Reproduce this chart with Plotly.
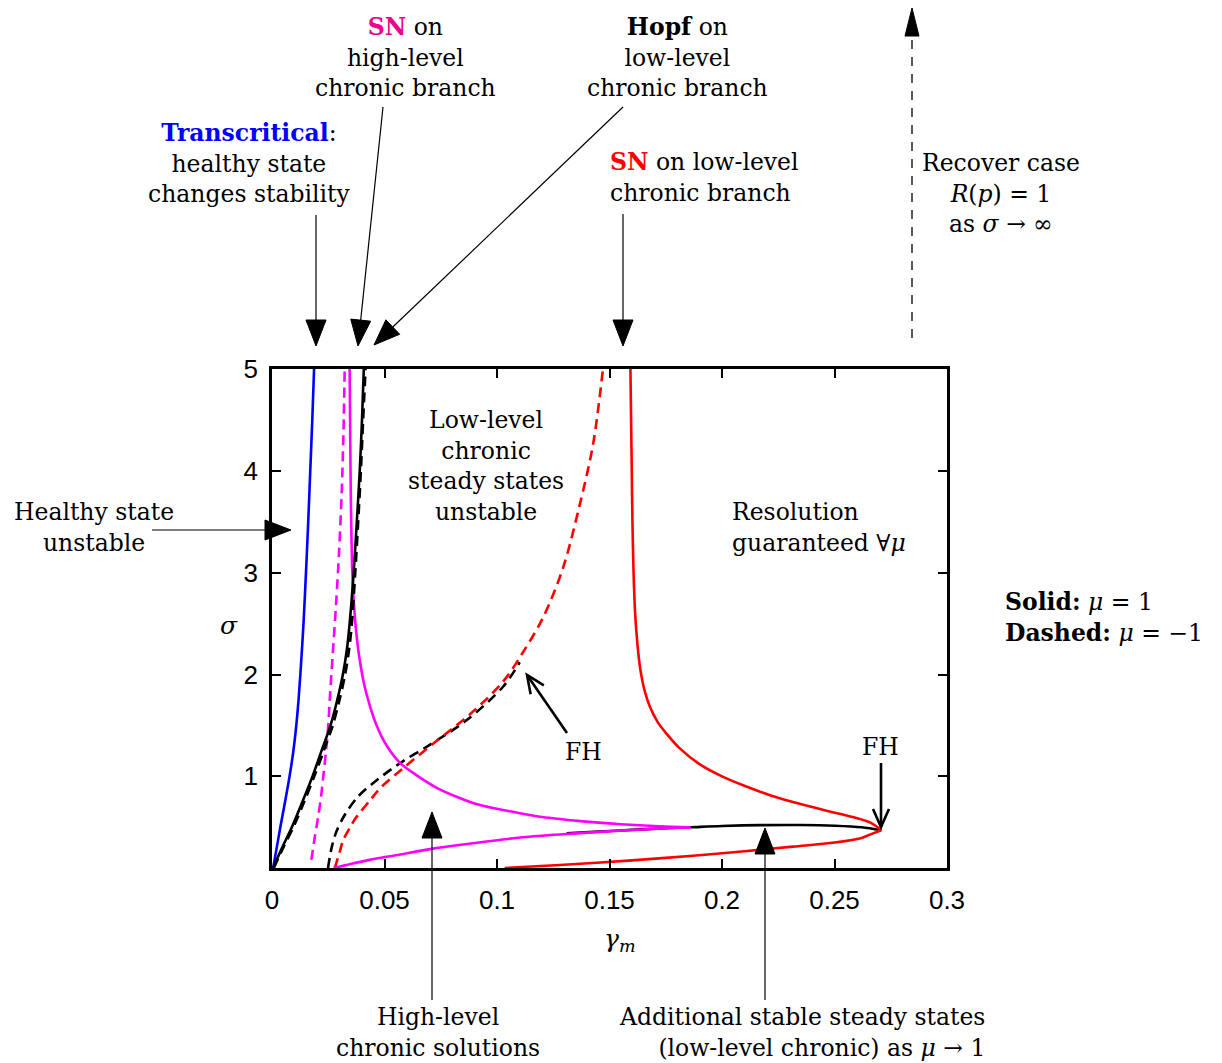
import plotly.graph_objects as go
import math

# ---------------- data (gamma_m, sigma) ----------------
blue_g = [0.0005, 0.0021, 0.0037, 0.0058, 0.0078, 0.0095, 0.0108, 0.0118, 0.0126, 0.0140,
          0.0151, 0.0161, 0.0170, 0.0179, 0.0187]
blue_s = [0.10, 0.30, 0.50, 0.75, 1.00, 1.25, 1.50, 1.75, 2.00, 2.50,
          3.00, 3.50, 4.00, 4.50, 5.00]

hopf_solid_g = [0.0005, 0.0045, 0.0088, 0.0135, 0.0180, 0.0220, 0.0260, 0.0290, 0.0315, 0.0333,
                0.0345, 0.0363, 0.0377, 0.0390, 0.0400, 0.0408]
hopf_solid_s = [0.10, 0.30, 0.50, 0.75, 1.00, 1.25, 1.50, 1.75, 2.00, 2.25,
                2.50, 3.00, 3.50, 4.00, 4.50, 5.00]

hopf_dash_up_g = [0.0008, 0.0050, 0.0095, 0.0143, 0.0188, 0.0230, 0.0270, 0.0300, 0.0325, 0.0343,
                  0.0355, 0.0370, 0.0383, 0.0395, 0.0405, 0.0416]
hopf_dash_up_s = [0.10, 0.30, 0.50, 0.75, 1.00, 1.25, 1.50, 1.75, 2.00, 2.25,
                  2.50, 3.00, 3.50, 4.00, 4.50, 5.00]

hopf_low_solid_g = [0.131, 0.145, 0.160, 0.175, 0.186, 0.200, 0.217, 0.235, 0.250, 0.262, 0.2708]
hopf_low_solid_s = [0.44, 0.457, 0.474, 0.49, 0.50, 0.513, 0.521, 0.522, 0.515, 0.50, 0.47]

hopf_dash_low_g = [0.0249, 0.0265, 0.0285, 0.0323, 0.0382, 0.0464, 0.0583, 0.0687, 0.0864,
                   0.1027, 0.1101]
hopf_dash_low_s = [0.10, 0.30, 0.45, 0.62, 0.80, 0.96, 1.15, 1.29, 1.55,
                   1.88, 2.12]

sn_high_up_g = [0.0345, 0.0347, 0.0349, 0.0352, 0.0357, 0.0364, 0.0375, 0.0390, 0.0410, 0.0434,
                0.0465, 0.0510, 0.0570, 0.0650, 0.0730, 0.0820, 0.0920, 0.1050, 0.1200, 0.1370,
                0.1550, 0.1720, 0.1860]
sn_high_up_s = [5.00, 4.50, 4.00, 3.50, 3.00, 2.70, 2.40, 2.14, 1.90, 1.70,
                1.50, 1.30, 1.13, 1.00, 0.89, 0.80, 0.72, 0.66, 0.60, 0.56,
                0.53, 0.51, 0.50]

sn_high_low_g = [0.0274, 0.0350, 0.0434, 0.0550, 0.0716, 0.0900, 0.1130, 0.1350, 0.1575, 0.1750, 0.1860]
sn_high_low_s = [0.10, 0.14, 0.18, 0.225, 0.29, 0.345, 0.405, 0.44, 0.47, 0.49, 0.50]

sn_high_dash_g = [0.0175, 0.0190, 0.0205, 0.0218, 0.0228, 0.0240, 0.0250, 0.0258, 0.0270, 0.0285,
                  0.0298, 0.0310, 0.0318, 0.0323]
sn_high_dash_s = [0.18, 0.40, 0.60, 0.80, 1.00, 1.25, 1.50, 1.80, 2.20, 2.70,
                  3.20, 3.80, 4.40, 5.00]

sn_low_up_g = [0.1593, 0.1596, 0.1599, 0.1602, 0.1607, 0.1614, 0.1624, 0.1637, 0.1655, 0.1680,
               0.1715, 0.1753, 0.1810, 0.1900, 0.2000, 0.2108, 0.2220, 0.2345, 0.2460, 0.2582,
               0.2660, 0.2708]
sn_low_up_s = [5.00, 4.50, 4.00, 3.50, 3.00, 2.60, 2.30, 2.05, 1.85, 1.68,
               1.53, 1.42, 1.28, 1.12, 1.00, 0.90, 0.81, 0.73, 0.665, 0.60,
               0.545, 0.47]

sn_low_low_g = [0.2708, 0.2660, 0.2612, 0.2500, 0.2316, 0.2100, 0.1871, 0.1600, 0.1279, 0.1034]
sn_low_low_s = [0.47, 0.43, 0.39, 0.35, 0.31, 0.265, 0.22, 0.175, 0.13, 0.10]

sn_low_dash_g = [0.0279, 0.0300, 0.0316, 0.0347, 0.0375, 0.0434, 0.0479, 0.0583, 0.0716, 0.0880,
                 0.1027, 0.1116, 0.1205, 0.1294, 0.1368, 0.1427, 0.1471]
sn_low_dash_s = [0.10, 0.25, 0.37, 0.50, 0.60, 0.76, 0.88, 1.08, 1.32, 1.61,
                 1.93, 2.22, 2.56, 3.05, 3.67, 4.26, 5.00]

x_ticks = [0, 0.05, 0.1, 0.15, 0.2, 0.25, 0.3]
x_tick_labels = ["0", "0.05", "0.1", "0.15", "0.2", "0.25", "0.3"]
y_ticks = [1, 2, 3, 4, 5]
y_tick_labels = ["1", "2", "3", "4", "5"]

# ---------------- figure ----------------
W, H = 1222, 1063
L, R, T, B = 272, 947, 369, 868
LW = 2.6
DASH = "10px,6px"

fig = go.Figure()

def add(g, s, color, dash=None):
    fig.add_trace(go.Scatter(x=g, y=s, mode="lines", line_shape="spline",
                             line=dict(color=color, width=LW, dash=dash, smoothing=0.9),
                             showlegend=False, hoverinfo="skip"))

add(blue_g, blue_s, "#0000FF")
add(sn_high_dash_g, sn_high_dash_s, "#FF00FF", DASH)
add(hopf_dash_low_g, hopf_dash_low_s, "#000000", DASH)
add(sn_low_dash_g, sn_low_dash_s, "#FF0000", DASH)
add(hopf_low_solid_g, hopf_low_solid_s, "#000000")
add(sn_high_up_g, sn_high_up_s, "#FF00FF")
add(sn_high_low_g, sn_high_low_s, "#FF00FF")
add(sn_low_up_g, sn_low_up_s, "#FF0000")
add(sn_low_low_g, sn_low_low_s, "#FF0000")
add(hopf_dash_up_g, hopf_dash_up_s, "#000000", DASH)
add(hopf_solid_g, hopf_solid_s, "#000000")

def pxp(x):
    return (x - L) / (R - L)

def pyp(y):
    return (B - y) / (B - T)

shapes = []

def arrow(x0, y0, x1, y1, hl=26, hw=10, width=1.2, dash=None):
    dx, dy = x1 - x0, y1 - y0
    n = math.hypot(dx, dy)
    ux, uy = dx / n, dy / n
    bx, by = x1 - ux * hl, y1 - uy * hl
    shapes.append(dict(type="line", xref="paper", yref="paper",
                       x0=pxp(x0), y0=pyp(y0), x1=pxp(bx), y1=pyp(by),
                       line=dict(color="black", width=width, dash=dash)))
    p1 = (bx - uy * hw, by + ux * hw)
    p2 = (bx + uy * hw, by - ux * hw)
    path = "M {} {} L {} {} L {} {} Z".format(pxp(x1), pyp(y1), pxp(p1[0]), pyp(p1[1]),
                                              pxp(p2[0]), pyp(p2[1]))
    shapes.append(dict(type="path", xref="paper", yref="paper", path=path,
                       fillcolor="black", line=dict(color="black", width=1)))

def varrow(x0, y0, x1, y1, hl=18, hw=8, width=2.6):
    dx, dy = x1 - x0, y1 - y0
    n = math.hypot(dx, dy)
    ux, uy = dx / n, dy / n
    bx, by = x1 - ux * hl, y1 - uy * hl
    shapes.append(dict(type="line", xref="paper", yref="paper",
                       x0=pxp(x0), y0=pyp(y0), x1=pxp(x1), y1=pyp(y1),
                       line=dict(color="black", width=width)))
    p1 = (bx - uy * hw, by + ux * hw)
    p2 = (bx + uy * hw, by - ux * hw)
    path = "M {} {} L {} {} L {} {}".format(pxp(p1[0]), pyp(p1[1]), pxp(x1), pyp(y1),
                                            pxp(p2[0]), pyp(p2[1]))
    shapes.append(dict(type="path", xref="paper", yref="paper", path=path,
                       line=dict(color="black", width=width)))

arrow(316, 215, 316, 346)          # transcritical
arrow(383, 107, 358, 346)          # SN high
arrow(623, 107, 374, 345)          # Hopf
arrow(623, 214, 623, 346)          # SN low
arrow(912, 338, 912, 8, hl=28, hw=7, width=1.3, dash="9px,8px")  # recover case
arrow(152, 530, 291, 530)          # healthy state
arrow(432, 1000, 432, 812)         # high-level chronic
arrow(765, 1000, 765, 828)         # additional stable
varrow(567, 733, 527, 675)         # FH middle
varrow(881, 763, 881, 827)         # FH right

SERIF = "DejaVu Serif"
FS = 23.5
ann = []

def text(x, y, s, xanchor="center", align="center", size=FS):
    ann.append(dict(x=pxp(x), y=pyp(y), xref="paper", yref="paper", text=s,
                    showarrow=False, xanchor=xanchor, yanchor="middle", align=align,
                    font=dict(family=SERIF, size=size, color="black")))

text(405, 57, "<b><span style='color:#EC008C'>SN</span></b> on<br>high-level<br>chronic branch")
text(677, 57, "<b>Hopf</b> on<br>low-level<br>chronic branch")
text(249, 163, "<b><span style='color:#0000FF'>Transcritical</span></b>:<br>healthy state<br>changes stability")
text(608, 178, "<b><span style='color:#FF0000'>SN</span></b> on low-level<br>chronic branch", xanchor="left", align="left")
text(1001, 193, "Recover case<br><i>R</i>(<i>p</i>) = 1<br>as <i>σ</i> → ∞")
text(94, 527, "Healthy state<br>unstable")
text(486, 466, "Low-level<br>chronic<br>steady states<br>unstable")
text(730, 527, "Resolution<br>guaranteed ∀<i>μ</i>", xanchor="left", align="left")
text(1003, 617, "<b>Solid:</b> <i>μ</i> = 1<br><b>Dashed:</b> <i>μ</i> = −1", xanchor="left", align="left")
text(583, 752, "FH")
text(880, 747, "FH")
text(438, 1032, "High-level<br>chronic solutions")
text(987, 1032, "Additional stable steady states<br>(low-level chronic) as <i>μ</i> → 1", xanchor="right", align="right")
text(229, 625, "<i>σ</i>", size=25)
text(620, 940, "<i>γ<sub>m</sub></i>", size=25)

axis_common = dict(showline=True, linecolor="black", linewidth=2.6, mirror="ticks",
                   ticks="inside", ticklen=9, tickwidth=2.4, tickcolor="black",
                   showgrid=False, zeroline=False,
                   tickfont=dict(family="Liberation Sans", size=26, color="black"))

fig.update_layout(
    width=W, height=H,
    margin=dict(l=L, r=W - R, t=T, b=H - B),
    paper_bgcolor="white", plot_bgcolor="white",
    xaxis=dict(range=[0, 0.3], tickvals=x_ticks, ticktext=x_tick_labels,
               ticklabelstandoff=7, **axis_common),
    yaxis=dict(range=[0.1, 5], tickvals=y_ticks, ticktext=y_tick_labels,
               ticklabelstandoff=6, **axis_common),
    shapes=shapes, annotations=ann, showlegend=False,
)

fig.write_html("out.html")
